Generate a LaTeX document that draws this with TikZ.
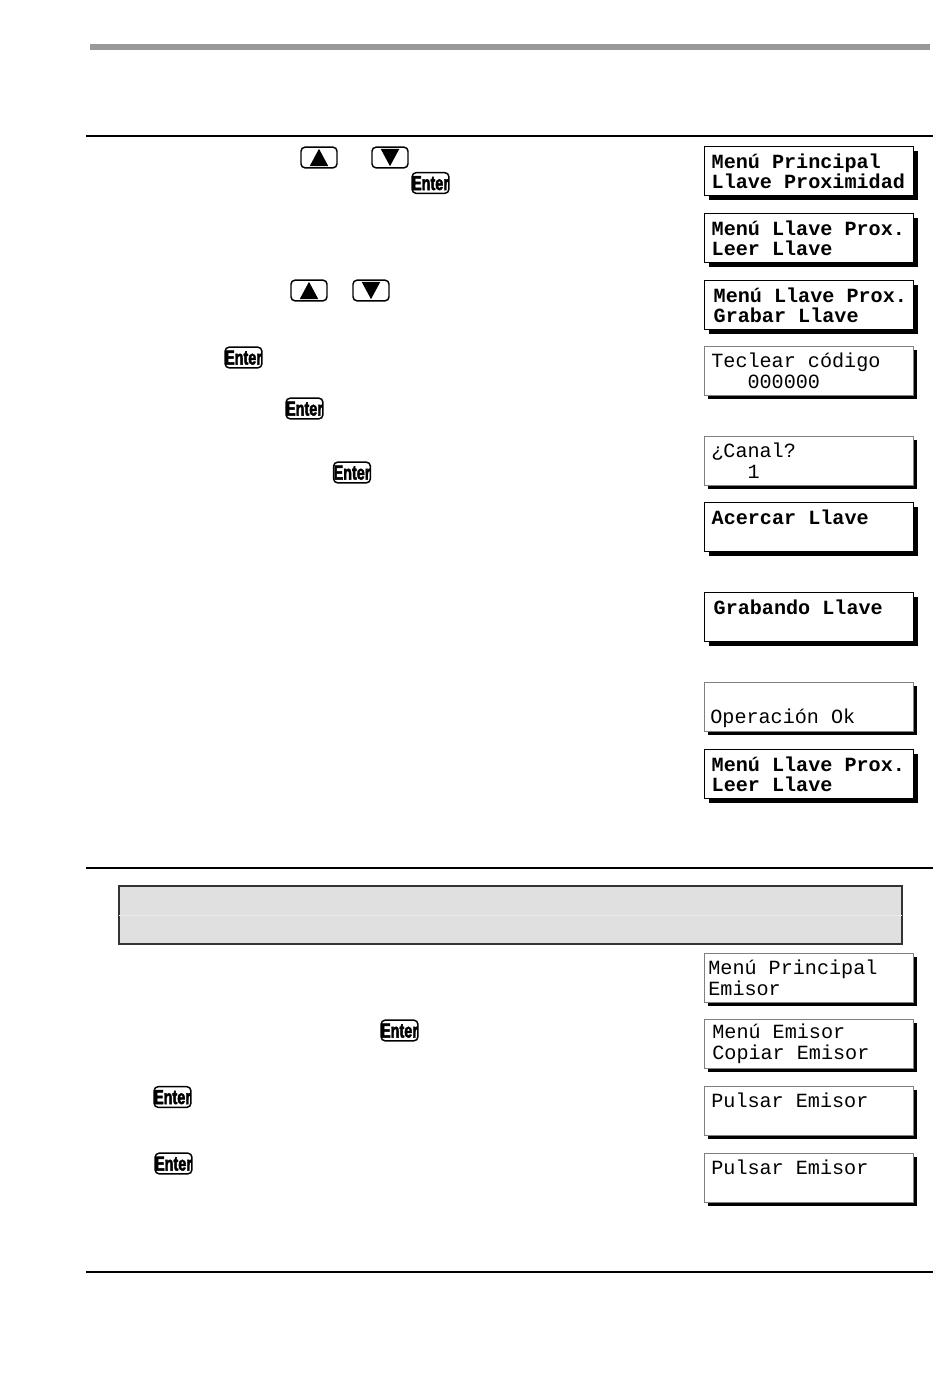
\documentclass[tikz,border=0pt]{standalone}
\usepackage{graphicx}
\usepackage{fontspec}
\setmainfont{Liberation Sans}
\setmonofont{Liberation Mono}
\newfontfamily\enterfont[FakeBold=2.5]{Liberation Sans Bold}
\usetikzlibrary{shadows}

\begin{document}
\begin{tikzpicture}[x=0.75pt, y=-0.75pt,
  lcd/.style={draw=gray, line width=0.5pt, fill=white, anchor=north west, align=flush left,
    minimum height=36.75pt, text width={(209-2*#1)*0.75pt}, inner xsep=#1*0.75pt, inner ysep=0pt,
    font=\ttfamily\fontsize{15.1}{15.4}\selectfont,
    drop shadow={shadow xshift=3pt, shadow yshift=-3pt, fill=black, opacity=1}},
  lcd/.default={7},
  lcdbold/.style={lcd=#1, draw=black, line width=1pt, font=\ttfamily\bfseries\fontsize{15.1}{15.4}\selectfont},
  lcdbold/.default={7},
  keybox/.style={draw, rounded corners=3pt, line width=1.1pt, minimum width=27pt, minimum height=15.5pt, inner sep=0pt},
  keyup/.style={keybox, path picture={\fill[sharp corners] ([yshift=6.5pt]path picture bounding box.center) -- ++(-7pt,-13pt) -- ++(14pt,0pt) -- cycle;}},
  keydown/.style={keybox, path picture={\fill[sharp corners] ([yshift=-6.5pt]path picture bounding box.center) -- ++(-7pt,13pt) -- ++(14pt,0pt) -- cycle;}},
  enterkey/.style={keybox, font=\enterfont\fontsize{15}{15}\selectfont, text height=10.5pt, text depth=0pt},
  rule/.style={line width=2.2pt}]
\useasboundingbox (0,0) rectangle (950,1389);
\fill[white] (0,0) rectangle (950,1389);
% page rules
\draw[line width=4pt, black!40] (90,47) -- (930,47);
\draw[rule] (86,136) -- (933,136);
\draw[rule] (86,868) -- (933,868);
\draw[rule] (86,1272) -- (933,1272);
% shaded panel
\node[draw=black!80, line width=1.5pt, fill=black!12, anchor=north west, minimum width=587.5pt, minimum height=43.5pt, inner sep=0pt] (panel) at (118,885) {};
\draw[black!8, line width=0.5pt, shorten >=1pt, shorten <=1pt] (panel.west) -- (panel.east);
% keys
\node[keyup] (up1) at (319,157.5) {};
\node[keydown] (down1) at (390,157.5) {};
\node[enterkey] (enter1) at (430.5,183) {\scalebox{0.72}[1]{Enter}};
\node[keyup] (up2) at (309,290.5) {};
\node[keydown] (down2) at (371,290.5) {};
\node[enterkey] (enter2) at (243.5,357.5) {\scalebox{0.72}[1]{Enter}};
\node[enterkey] (enter3) at (304.5,408.5) {\scalebox{0.72}[1]{Enter}};
\node[enterkey] (enter4) at (352,472.5) {\scalebox{0.72}[1]{Enter}};
\node[enterkey] (enter5) at (399.5,1030.5) {\scalebox{0.72}[1]{Enter}};
\node[enterkey] (enter6) at (172.5,1097) {\scalebox{0.72}[1]{Enter}};
\node[enterkey] (enter7) at (173.5,1163.5) {\scalebox{0.72}[1]{Enter}};
% displays
\node[lcdbold] (menu) at (704,146) {Menú Principal\\Llave Proximidad};
\node[lcdbold] (leer) at (704,213) {Menú Llave Prox.\\Leer Llave};
\node[lcdbold=9] (grabar) at (704,280) {\mbox{Menú Llave Prox.}\\Grabar Llave};
\node[lcd] (codigo) at (704,346) {Teclear código\\\phantom{000}000000};
\node[lcd] (canal) at (704,436) {¿Canal?\\\phantom{000}1};
\node[lcdbold] (acercar) at (704,502) {Acercar Llave\\\mbox{}};
\node[lcdbold=9] (grabando) at (704,592) {Grabando Llave\\\mbox{}};
\node[lcd=6] (ok) at (704,682) {\mbox{}\\\raisebox{-5pt}[0pt][0pt]{Operación Ok}};
\node[lcdbold] (leer2) at (704,749) {Menú Llave Prox.\\Leer Llave};
\node[lcd=4] (emisor) at (704,953) {Menú Principal\\Emisor};
\node[lcd=8] (copiar) at (704,1019) {Menú Emisor\\Copiar Emisor};
\node[lcd] (pulsar) at (704,1086) {Pulsar Emisor\\\mbox{}};
\node[lcd] (pulsar2) at (704,1153) {Pulsar Emisor\\\mbox{}};
\end{tikzpicture}
\end{document}
